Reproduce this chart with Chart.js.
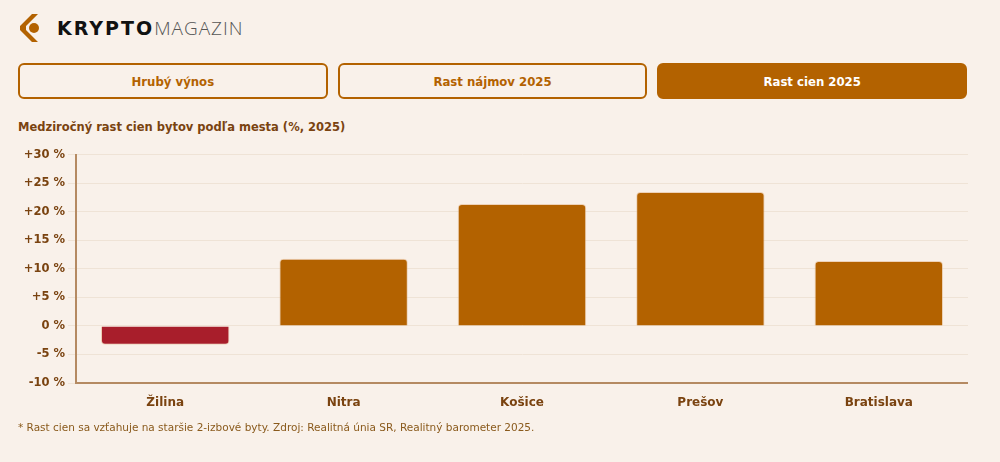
<!DOCTYPE html>
<html>
<head>
<meta charset="utf-8">
<script src="https://cdn.jsdelivr.net/npm/chart.js@4"></script>
<style>
  body { margin: 0; background: #f9f1ea; font-family: "DejaVu Sans", Verdana, sans-serif; width: 1000px; height: 462px; overflow: hidden; position: relative; }
  .logo { position: absolute; left: 18px; top: 13px; display: flex; align-items: center; }
  .logo .txt { margin-left: 15px; font-size: 19px; }
  .logo b { color: #111; font-weight: bold; font-family: "DejaVu Sans", sans-serif; letter-spacing: 2px; }
  .logo span { color: #555; font-weight: 300; font-family: "Open Sans", sans-serif; letter-spacing: 1px; }
  .tabs { position: absolute; left: 18px; top: 63px; width: 949px; display: flex; gap: 10px; }
  .tab { flex: 1; height: 32px; border: 2px solid #b36200; border-radius: 6px; color: #b36200; font-family: "DejaVu Sans Condensed", sans-serif; font-weight: bold; font-size: 13px; display: flex; align-items: center; justify-content: center; box-sizing: content-box; }
  .tab.active { background: #b36200; color: #fff; }
  h3 { position: absolute; left: 18px; top: 120px; margin: 0; font-size: 11.5px; color: #7a4310; }
  .wrap { position: absolute; left: 0; top: 145px; width: 968px; height: 278px; }
  .note { position: absolute; left: 18px; top: 421px; font-family: "DejaVu Sans", sans-serif; font-size: 10.5px; color: #8a5a1c; }
</style>
</head>
<body>
<div class="logo">
  <svg width="24" height="30" viewBox="0 0 24 30">
    <path d="M14 1 L2 13 L2 17 L14 29 L20 29 L8 17 L8 13 L20 1 Z" fill="#b36200"/>
    <circle cx="16" cy="15" r="5" fill="#b36200"/>
  </svg>
  <div class="txt"><b>KRYPTO</b><span>MAGAZIN</span></div>
</div>
<div class="tabs">
  <div class="tab">Hrubý výnos</div>
  <div class="tab">Rast nájmov 2025</div>
  <div class="tab active">Rast cien 2025</div>
</div>
<h3>Medziročný rast cien bytov podľa mesta (%, 2025)</h3>
<div class="wrap"><canvas id="myChart"></canvas></div>
<div class="note">* Rast cien sa vzťahuje na staršie 2-izbové byty. Zdroj: Realitná únia SR, Realitný barometer 2025.</div>
<script>
const cities = ['Žilina', 'Nitra', 'Košice', 'Prešov', 'Bratislava'];
const priceGrowth = [-3.3, 11.8, 21.4, 23.5, 11.4];
const yMin = -10;
const yMax = 30;
const yStep = 5;

const colors = priceGrowth.map(v => v < 0 ? '#a81e2b' : '#b36200');

const data = {
    labels: cities,
    datasets: [{
        label: 'Rast cien 2025',
        data: priceGrowth,
        backgroundColor: colors,
        borderColor: 'rgba(230, 190, 150, 0.6)',
        borderWidth: 1,
        borderRadius: 4,
        borderSkipped: 'start'
    }]
};

const config = {
    type: 'bar',
    data: data,
    options: {
        responsive: true,
        maintainAspectRatio: false,
        animation: false,
        layout: { padding: 0 },
        plugins: { legend: { display: false }, tooltip: { enabled: false } },
        scales: {
            x: {
                grid: { display: false },
                border: { color: '#b58a62', width: 2 },
                ticks: { color: '#7a4310', font: { family: 'DejaVu Sans', weight: 'bold', size: 12 }, padding: 5 },
                afterFit: axis => { axis.height = 40; }
            },
            y: {
                min: yMin,
                max: yMax,
                ticks: {
                    stepSize: yStep,
                    color: '#7a4310',
                    padding: 3,
                    font: { family: 'DejaVu Sans', weight: 'bold', size: 11.5 },
                    callback: v => (v > 0 ? '+' : '') + v + ' %'
                },
                grid: { color: '#efe3d6', tickLength: 8 },
                border: { color: '#b58a62', width: 2 },
                afterFit: axis => { axis.width = 76; }
            }
        }
    }
};

new Chart(document.getElementById('myChart'), config);
</script>
</body>
</html>
